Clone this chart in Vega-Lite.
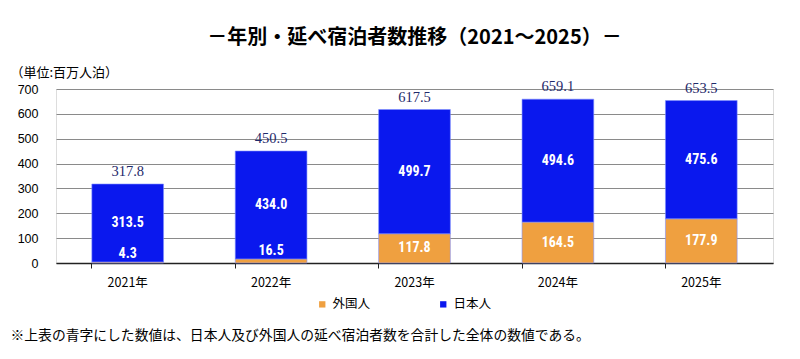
{
  "$schema": "https://vega.github.io/schema/vega-lite/v6.json",
  "autosize": {"type": "none"},
  "width": 717,
  "height": 174,
  "padding": {"left": 56, "top": 89, "right": 27, "bottom": 96},
  "background": "white",
  "config": {
    "axisY": {
      "tickCount": 7,
      "titleFont": "Noto Sans CJK JP",
      "titleFontSize": 13,
      "titleFontWeight": "normal",
      "titleColor": "#000000",
      "titleAngle": 0,
      "titleAlign": "left",
      "titleBaseline": "middle",
      "titleX": -46,
      "titleY": -17,
      "titleLimit": 300,
      "labelFont": "Arial, Liberation Sans",
      "labelFontSize": 12.5,
      "labelColor": "#000000",
      "labelPadding": 18,
      "labelOverlap": false,
      "domain": false,
      "ticks": false,
      "grid": true,
      "gridColor": "#8a8a8a",
      "gridWidth": 1
    }
  },
  "title": {
    "text": "－年別・延べ宿泊者数推移（2021～2025）－",
    "font": "Noto Sans CJK JP",
    "fontSize": 20,
    "fontWeight": "bold",
    "color": "#000000",
    "anchor": "middle",
    "frame": "group",
    "offset": 18
  },
  "data": {
    "values": [
      {"year": "2021年", "group": "外国人", "rank": 1, "value": 4.3},
      {"year": "2021年", "group": "日本人", "rank": 2, "value": 313.5},
      {"year": "2022年", "group": "外国人", "rank": 1, "value": 16.5},
      {"year": "2022年", "group": "日本人", "rank": 2, "value": 434.0},
      {"year": "2023年", "group": "外国人", "rank": 1, "value": 117.8},
      {"year": "2023年", "group": "日本人", "rank": 2, "value": 499.7},
      {"year": "2024年", "group": "外国人", "rank": 1, "value": 164.5},
      {"year": "2024年", "group": "日本人", "rank": 2, "value": 494.6},
      {"year": "2025年", "group": "外国人", "rank": 1, "value": 177.9},
      {"year": "2025年", "group": "日本人", "rank": 2, "value": 475.6}
    ]
  },
  "encoding": {
    "x": {
      "field": "year",
      "type": "nominal",
      "scale": {"paddingInner": 0.5, "paddingOuter": 0.25},
      "axis": {
        "title": "※上表の青字にした数値は、日本人及び外国人の延べ宿泊者数を合計した全体の数値である。",
        "titleFont": "Noto Sans CJK JP",
        "titleFontSize": 13.8,
        "titleFontWeight": "normal",
        "titleColor": "#000000",
        "titleAnchor": "start",
        "titleAlign": "left",
        "titleBaseline": "middle",
        "titleX": -46,
        "titleY": 72,
        "titleLimit": 800,
        "labelAngle": 0,
        "labelFont": "Noto Sans CJK JP",
        "labelFontSize": 12.5,
        "labelColor": "#000000",
        "labelPadding": 8,
        "bandPosition": 0,
        "domainColor": "#222222",
        "domainWidth": 1.5,
        "tickColor": "#222222",
        "tickSize": 5,
        "grid": false
      }
    }
  },
  "layer": [
    {
      "mark": {"type": "bar", "stroke": "#8090ff", "strokeWidth": 0.6},
      "encoding": {
        "y": {
          "field": "value",
          "type": "quantitative",
          "stack": "zero",
          "scale": {"domain": [0, 700], "nice": false},
          "axis": {"title": "（単位:百万人泊）"}
        },
        "color": {
          "field": "group",
          "type": "nominal",
          "scale": {"domain": ["外国人", "日本人"], "range": ["#EFA040", "#0A18EE"]},
          "legend": {
            "title": null,
            "orient": "none",
            "direction": "horizontal",
            "legendX": 260,
            "legendY": 209,
            "symbolType": "square",
            "symbolSize": 40,
            "symbolStrokeWidth": 0,
            "labelFont": "Noto Sans CJK JP",
            "labelFontSize": 12.5,
            "labelColor": "#000000",
            "columnPadding": 66
          }
        },
        "order": {"field": "rank", "type": "quantitative"}
      }
    },
    {
      "transform": [
        {"stack": "value", "groupby": ["year"], "sort": [{"field": "rank"}], "as": ["v0", "v1"]},
        {"filter": "datum.value >= 50"},
        {"fold": ["v0", "v1"], "as": ["edge", "pos"]},
        {"aggregate": [{"op": "mean", "field": "pos", "as": "mid"}], "groupby": ["year", "group", "value"]}
      ],
      "mark": {"type": "text", "color": "white", "font": "Liberation Sans Narrow, Roboto Condensed, Arial", "fontSize": 14, "fontWeight": "bold", "baseline": "middle"},
      "encoding": {
        "y": {"field": "mid", "type": "quantitative", "axis": {"title": "（単位:百万人泊）"}},
        "text": {"field": "value", "type": "quantitative", "format": ".1f"}
      }
    },
    {
      "transform": [{"filter": "datum.value < 50"}],
      "mark": {"type": "text", "color": "white", "font": "Liberation Sans Narrow, Roboto Condensed, Arial", "fontSize": 14, "fontWeight": "bold", "baseline": "bottom", "dy": -1},
      "encoding": {
        "y": {"field": "value", "type": "quantitative", "axis": {"title": "（単位:百万人泊）"}},
        "text": {"field": "value", "type": "quantitative", "format": ".1f"}
      }
    },
    {
      "mark": {"type": "text", "color": "#1F2A6B", "font": "Liberation Serif", "fontSize": 14.5, "baseline": "bottom", "dy": -5},
      "encoding": {
        "y": {"aggregate": "sum", "field": "value", "type": "quantitative", "axis": {"title": "（単位:百万人泊）"}},
        "text": {"aggregate": "sum", "field": "value", "type": "quantitative", "format": ".1f"}
      }
    }
  ]
}
